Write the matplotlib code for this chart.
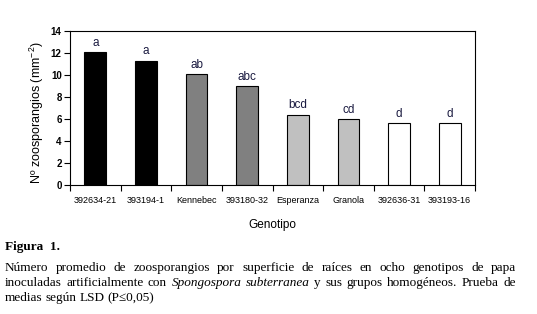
import matplotlib
matplotlib.use("Agg")
import matplotlib.pyplot as plt

plt.rcParams["mathtext.fontset"] = "custom"
plt.rcParams["mathtext.rm"] = "Liberation Sans"
plt.rcParams["mathtext.it"] = "Liberation Sans:italic"
plt.rcParams["mathtext.default"] = "regular"

genotypes = ["392634-21", "393194-1", "Kennebec", "393180-32", "Esperanza", "Granola", "392636-31", "393193-16"]
values = [12.1, 11.3, 10.1, 9.0, 6.4, 6.0, 5.6, 5.6]
groups = ["a", "a", "ab", "abc", "bcd", "cd", "d", "d"]
colors = ["#000000", "#000000", "#808080", "#808080", "#c0c0c0", "#c0c0c0", "#ffffff", "#ffffff"]
yticks = [0, 2, 4, 6, 8, 10, 12, 14]

W, H = 537, 314
fig = plt.figure(figsize=(W / 100, H / 100), dpi=100)
ax = fig.add_axes([70 / W, 1 - 185 / H, 405 / W, 154 / H])

x = list(range(len(genotypes)))
ax.bar(x, values, width=0.43, color=colors, edgecolor="black", linewidth=0.8)
for xi, v, g in zip(x, values, groups):
    ax.text(xi, v + 0.3, g, ha="center", va="bottom", fontsize=8.5,
            family="Liberation Sans", color="#1a1a40")

ax.set_xlim(-0.5, len(genotypes) - 0.5)
ax.set_ylim(0, 14)
ax.set_yticks(yticks)
ax.set_yticklabels([str(t) for t in yticks], family="Liberation Sans", fontsize=7, weight="bold")
ax.set_xticks([i - 0.5 for i in range(len(genotypes) + 1)])
ax.set_xticklabels([])
ax.set_xticks(x, minor=True)
ax.set_xticklabels(genotypes, minor=True, family="Liberation Sans", fontsize=6.5)
ax.tick_params(axis="x", which="minor", length=0, pad=8)
ax.tick_params(axis="x", which="major", length=4, width=0.8, direction="out")
ax.tick_params(axis="y", length=4, width=0.8, direction="out", pad=2)
for s in ax.spines.values():
    s.set_linewidth(0.8)
ax.set_ylabel("Nº zoosporangios (mm$^{-2}$)", family="Liberation Sans", fontsize=9)
ax.yaxis.set_label_coords(-0.06, 0.47)
ax.set_xlabel("Genotipo", family="Liberation Sans", fontsize=8.5, labelpad=10)

# Caption
fig.text(5 / W, 1 - 247 / H, "Figura  1.", family="Liberation Serif", fontsize=9.5,
         weight="bold", va="center", ha="left")

lines = [
    [("Número", "normal"), ("promedio", "normal"), ("de", "normal"), ("zoosporangios", "normal"),
     ("por", "normal"), ("superficie", "normal"), ("de", "normal"), ("raíces", "normal"),
     ("en", "normal"), ("ocho", "normal"), ("genotipos", "normal"), ("de", "normal"), ("papa", "normal")],
    [("inoculadas", "normal"), ("artificialmente", "normal"), ("con", "normal"),
     ("Spongospora", "italic"), ("subterranea", "italic"), ("y", "normal"), ("sus", "normal"),
     ("grupos", "normal"), ("homogéneos.", "normal"), ("Prueba", "normal"), ("de", "normal")],
    [("medias", "normal"), ("según", "normal"), ("LSD", "normal"), ("(P≤0,05)", "normal")],
]
ys = [268, 283, 298]
left, right = 5, 516
fig.canvas.draw()
renderer = fig.canvas.get_renderer()
fs = 9.5
for li, (words, yy) in enumerate(zip(lines, ys)):
    widths = []
    for w, st in words:
        t = fig.text(0, 0, w, family="Liberation Serif", fontsize=fs, style=st)
        bb = t.get_window_extent(renderer)
        widths.append(bb.width)
        t.remove()
    if li < len(lines) - 1:
        gap = (right - left - sum(widths)) / (len(words) - 1)
    else:
        gap = 3.0
    cx = left
    for (w, st), wd in zip(words, widths):
        fig.text(cx / W, 1 - yy / H, w, family="Liberation Serif", fontsize=fs, style=st,
                 va="center", ha="left")
        cx += wd + gap

fig.savefig("out.png", dpi=100)
